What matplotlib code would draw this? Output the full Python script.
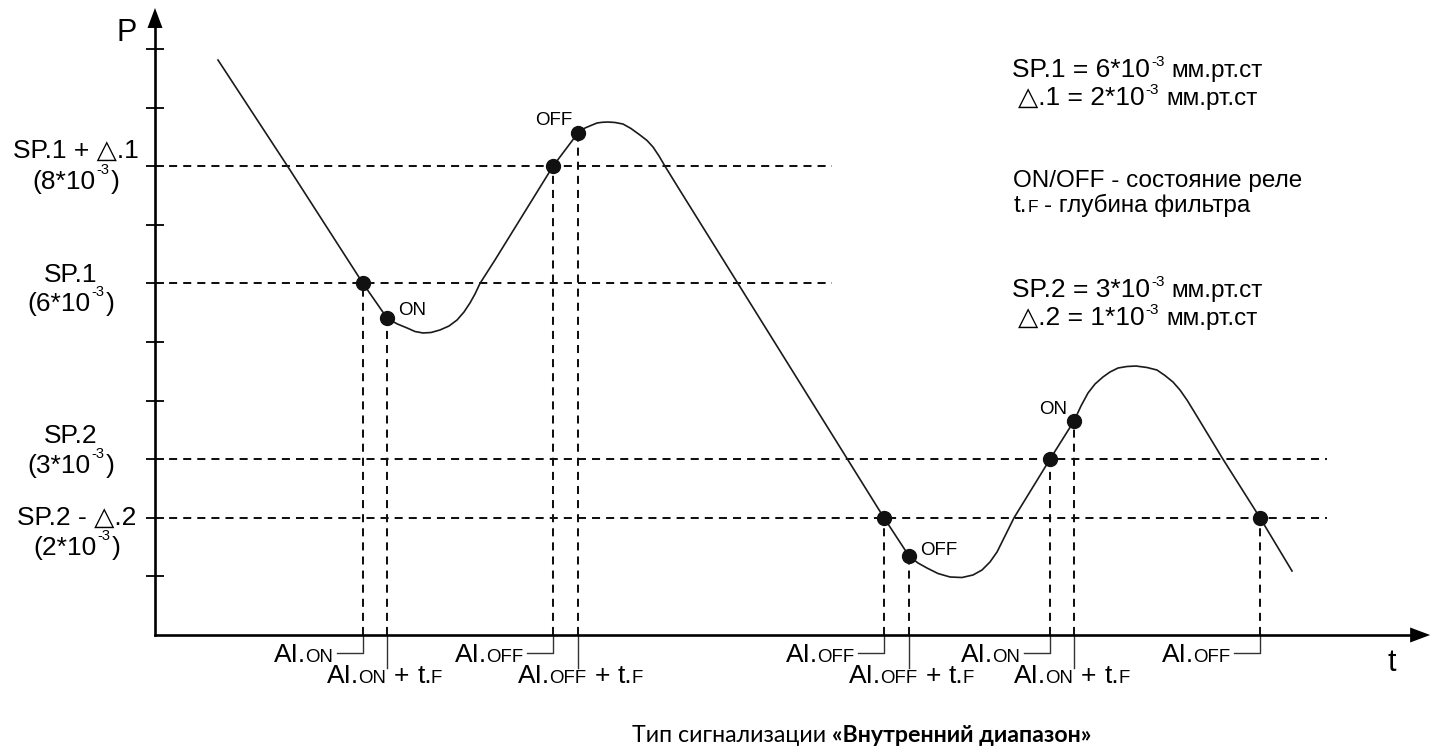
"""Relay alarm chart: type "inner range"."""

import matplotlib

matplotlib.use("Agg")  # headless backend
import matplotlib.pyplot as plt
import matplotlib.transforms as mtransforms

W, H = 1442, 756
PX = 58.6  # reference pixels per axis unit (same on both axes)
FONT = ["Liberation Sans", "DejaVu Sans"]

# Pressure curve: t (arbitrary units), P in 10^-3 mm Hg.
curve_t = [1.075, 2.304, 3.549, 3.959, 4.13, 4.30, 4.437, 4.573, 4.710, 4.863,
           5.017, 5.154, 5.273, 5.375, 5.461, 5.546, 5.802, 6.792, 7.218, 7.338,
           7.440, 7.543, 7.628, 7.730, 7.850, 7.986, 8.123, 8.276, 8.396, 8.498,
           8.601, 8.703, 8.95, 12.44, 12.867, 13.020, 13.174, 13.362, 13.567,
           13.771, 13.959, 14.113, 14.249, 14.369, 14.471, 14.556, 14.659,
           15.273, 15.683, 15.802, 15.922, 16.041, 16.177, 16.297, 16.433,
           16.587, 16.741, 16.928, 17.099, 17.235, 17.372, 17.491, 17.611,
           17.747, 18.225, 18.857, 19.403]
curve_p = [9.812, 7.935, 6.00, 5.41, 5.31, 5.24, 5.179, 5.154, 5.162, 5.205,
           5.273, 5.375, 5.512, 5.666, 5.819, 6.00, 6.40, 8.00, 8.567, 8.652,
           8.695, 8.737, 8.749, 8.754, 8.746, 8.720, 8.643, 8.532, 8.439, 8.328,
           8.174, 8.00, 7.60, 2.00, 1.348, 1.229, 1.143, 1.049, 0.99,
           0.981, 1.024, 1.109, 1.246, 1.416, 1.621, 1.792, 2.00,
           3.00, 3.652, 3.908, 4.13, 4.283, 4.403, 4.488, 4.556,
           4.582, 4.590, 4.565, 4.522, 4.428, 4.317, 4.181, 4.010,
           3.788, 3.00, 2.00, 1.092]

# Switching points (dots) and what they mark
event_t = [3.549, 3.959, 6.792, 7.218, 12.44, 12.867, 15.273, 15.683, 18.857]
event_p = [6.0, 5.41, 8.0, 8.567, 2.0, 1.348, 3.0, 3.652, 2.0]
event_kind = ["trig", "filt", "trig", "filt", "trig", "filt", "trig", "filt", "trig"]
event_state = ["ON", "ON", "OFF", "OFF", "OFF", "OFF", "ON", "ON", "OFF"]

# Threshold levels
level_p = [8, 6, 3, 2]
level_end = [11.55, 11.55, 20.0, 20.0]
level_name = ["SP.1 + \u25b3.1", "SP.1", "SP.2", "SP.2 - \u25b3.2"]

# relay state labels next to the delayed dots: event index, dx, dy (px), ha
state_labels = [(1, 11, 9, "left"), (3, -6, 14, "right"),
                (5, 11, 7, "left"), (7, -7, 13, "right")]

fig = plt.figure(figsize=(W / 100, H / 100), dpi=100)
ax = fig.add_axes([155 / W, (H - 635) / H, (1412 - 155) / W, (635 - 28) / H])
ax.set_xlim(0, (1412 - 155) / PX)
ax.set_ylim(0, (635 - 28) / PX)
for s in ("top", "right"):
    ax.spines[s].set_visible(False)
for s in ("left", "bottom"):
    ax.spines[s].set_linewidth(1.9)
ax.set_xticks([])
ax.set_yticks(range(1, 11))
ax.set_yticklabels([])
ax.tick_params(axis="y", direction="inout", length=13, width=1.3)

arrow = dict(arrowstyle="-|>,head_length=0.8,head_width=0.3", color="black",
             lw=0, mutation_scale=18, shrinkA=0, shrinkB=0)
ytop, xtop = ax.get_ylim()[1], ax.get_xlim()[1]
ax.annotate("", xy=(0, 10.70), xytext=(0, ytop - 0.1), arrowprops=arrow,
            annotation_clip=False)
ax.annotate("", xy=(21.76, 0), xytext=(xtop - 0.1, 0), arrowprops=arrow,
            annotation_clip=False)

dash = (0, (4, 3))
for p, end in zip(level_p, level_end):
    ax.plot([0, end], [p, p], ls=dash, lw=1.45, color="#111111")
for t, p, kind in zip(event_t, event_p, event_kind):
    ax.plot([t, t], [0, p], ls=dash, lw=1.45, color="#111111")
    if kind == "trig":
        ax.plot([t, t, t - 26 / PX], [0, -18 / PX, -18 / PX], lw=1.0,
                color="#333333", clip_on=False)
    else:
        ax.plot([t, t], [0, -33 / PX], lw=1.0, color="#333333", clip_on=False)

ax.plot(curve_t, curve_p, color="#1a1a1a", lw=1.2, clip_on=False)
ax.plot(event_t, event_p, "o", ms=10, color="#111111", zorder=5, clip_on=False)

renderer = fig.canvas.get_renderer()
ident = mtransforms.IdentityTransform()


def rich(x, y, parts, ha="left", family=FONT):
    """Text pieces on one baseline. x, y: reference pixels from top-left.
    parts: (text, size, rise_px, gap_px, weight)"""
    items = []
    for part in parts:
        s, size = part[0], part[1]
        rise = part[2] if len(part) > 2 else 0
        gap = part[3] if len(part) > 3 else 0
        weight = part[4] if len(part) > 4 else "normal"
        txt = fig.text(0, 0, s, fontsize=size, family=family, weight=weight,
                       va="baseline", transform=ident)
        w = txt.get_window_extent(renderer).width
        items.append((txt, rise, gap, w))
    total = sum(g + w for _, _, g, w in items)
    x0 = x - {"left": 0, "center": total / 2, "right": total}[ha]
    for txt, rise, gap, w in items:
        x0 += gap
        txt.set_position((x0, H - y + rise))
        x0 += w


def px_of(t, p):
    x, y = ax.transData.transform((t, p))
    return x, H - y


BIG, SMALL = 19, 13.4

# left level labels
name_base = [158, 282, 443, 525]
value_base = [189, 311, 473, 555]
label_cx = [76, 71, 71, 77]
for p, name, nb, vb, cx in zip(level_p, level_name, name_base, value_base, label_cx):
    rich(cx, nb, [(name, BIG)], ha="center")
    rich(cx, vb, [("(%d*10" % p, BIG), ("-3", 10.5, 15, 1), (")", BIG, 0, 2)],
         ha="center")

# relay state next to dots
for i, dx, dy, ha in state_labels:
    x, y = px_of(event_t[i], event_p[i])
    rich(x + dx, y - dy + 6, [(event_state[i], 13.5)], ha=ha)

# time-axis labels
for t, kind, state in zip(event_t, event_kind, event_state):
    x, _ = px_of(t, 0)
    if kind == "trig":
        rich(x - 30, 662, [("AI.", BIG), (state, SMALL, 0, -1)], ha="right")
    else:
        rich(x - 60, 683, [("AI.", BIG), (state, SMALL, 0, -1), ("+", BIG, 0, 8),
                           ("t.", BIG, 0, 8), ("F", SMALL, 0, -1)])

# axis names
fig.text(127, H - 33, "P", fontsize=22, family=FONT, ha="center", va="center",
         transform=ident)
fig.text(1392, H - 663, "t", fontsize=22, family=FONT, ha="center", va="center",
         transform=ident)

# legend block on the right
RB, RS = 19, 11
for y, head in [(77, "SP.1 = 6*10"), (105, "\u25b3.1 = 2*10"),
                (297, "SP.2 = 3*10"), (325, "\u25b3.2 = 1*10")]:
    x = 1012 if head.startswith("SP") else 1018
    rich(x, y, [(head, RB), ("-3", RS, 11, 1), ("мм.рт.ст", 17.5, 0, 7)])
rich(1013, 187, [("ON/OFF - состояние реле", 17.5)])
rich(1014, 212, [("t.", 17.5), ("F", 12.5, 0, 0), ("- глубина фильтра", 17.5, 0, 6)])

# caption
rich(862, 742, [("Тип сигнализации", 16.7),
                ("«Внутренний диапазон»", 16.7, 0, 6, "bold")],
     ha="center", family=["Lato", "DejaVu Sans"])

fig.savefig("out.png", dpi=100)
plt.close(fig)
